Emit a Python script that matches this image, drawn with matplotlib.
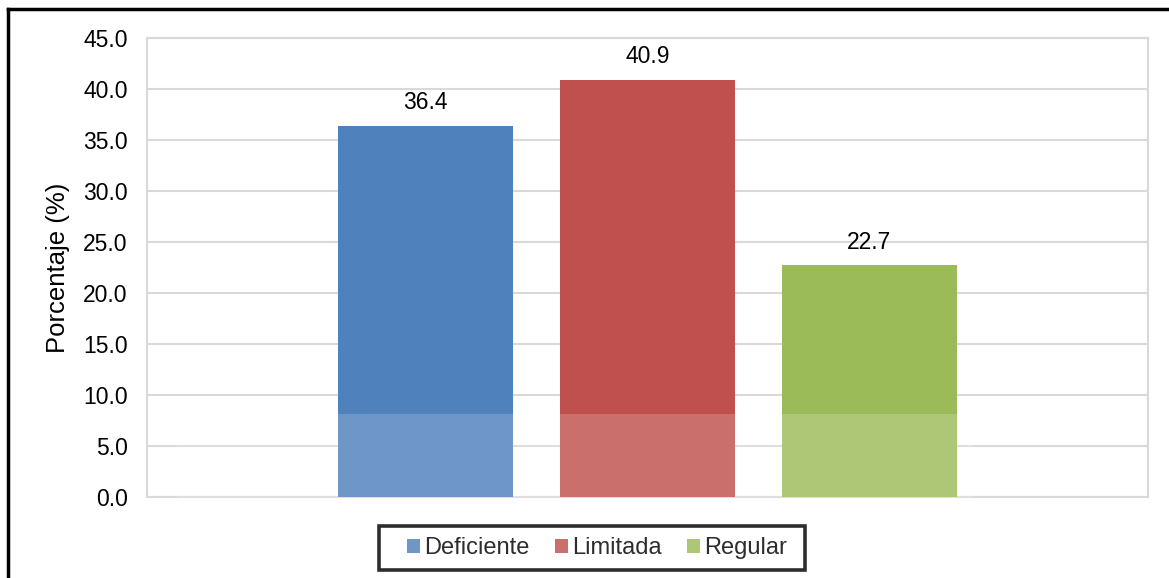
import matplotlib
matplotlib.use("Agg")
import matplotlib.pyplot as plt
from matplotlib.lines import Line2D
from matplotlib.patches import Rectangle, Patch

categories = ["Deficiente", "Limitada", "Regular"]
values = [36.4, 40.9, 22.7]
colors = ["#4f81bd", "#c0504d", "#9bbb59"]
yticks = [0, 5, 10, 15, 20, 25, 30, 35, 40, 45]

plt.rcParams["font.family"] = ["Liberation Sans", "DejaVu Sans"]

W, H = 1169, 578
fig = plt.figure(figsize=(W / 100, H / 100), dpi=100)
fig.patch.set_facecolor("white")

# plot area in pixels: left 147, right 1148, top 38, bottom 497
ax = fig.add_axes([147 / W, 1 - 497 / H, (1148 - 147) / W, (497 - 38) / H])

positions = [-1, 0, 1]
bar_w = 175 / 222
ax.bar(positions, values, width=bar_w, color=colors, zorder=3)

for x, v in zip(positions, values):
    ax.annotate(f"{v:.1f}", (x, v), xytext=(0, 12), textcoords="offset points",
                ha="center", va="baseline", fontsize=16.5, color="#000000")

half = (1148 - 147) / 222 / 2
ax.set_xlim(-half, half)
ax.set_ylim(0, 45)
ax.set_yticks(yticks)
ax.set_yticklabels([f"{t:.1f}" for t in yticks], fontsize=16.5)
ax.set_xticks([])
ax.tick_params(axis="y", length=0, pad=14)
ax.yaxis.grid(True, color="#d9d9d9", linewidth=1.5, zorder=0)
ax.set_axisbelow(True)
for s in ax.spines.values():
    s.set_color("#d9d9d9")
    s.set_linewidth(1.5)
ax.set_ylabel("Porcentaje (%)", fontsize=18.5)
ax.yaxis.set_label_coords(-0.077, 0.5)

# legend entries, with a separately drawn box around them
handles = [Patch(facecolor=c, edgecolor="none") for c in colors]
fig.legend(handles, categories, loc="center",
           bbox_to_anchor=(597 / W, 1 - 548 / H), ncol=3, frameon=False,
           fontsize=17, handlelength=0.55, handleheight=0.55,
           handletextpad=0.2, columnspacing=1.05, borderpad=0,
           borderaxespad=0)
fig.add_artist(Rectangle((379 / W, 1 - 570 / H), (805 - 379) / W, 44 / H,
                         transform=fig.transFigure, facecolor="none",
                         edgecolor="black", linewidth=2.6, zorder=5))

# light wash over the lower part of the figure
fig.add_artist(Rectangle((177 / W, 0), (973 - 177) / W, (H - 414) / H,
                         transform=fig.transFigure, facecolor="white",
                         edgecolor="none", alpha=0.18, zorder=10))

# outer frame: left and top edges
fig.add_artist(Line2D([7.5 / W, 7.5 / W], [0, 1 - 8.5 / H], color="black",
                      linewidth=2.5, transform=fig.transFigure))
fig.add_artist(Line2D([7.5 / W, 1], [1 - 8.5 / H, 1 - 8.5 / H], color="black",
                      linewidth=2.5, transform=fig.transFigure))

fig.savefig("out.png", dpi=100, facecolor="white")
